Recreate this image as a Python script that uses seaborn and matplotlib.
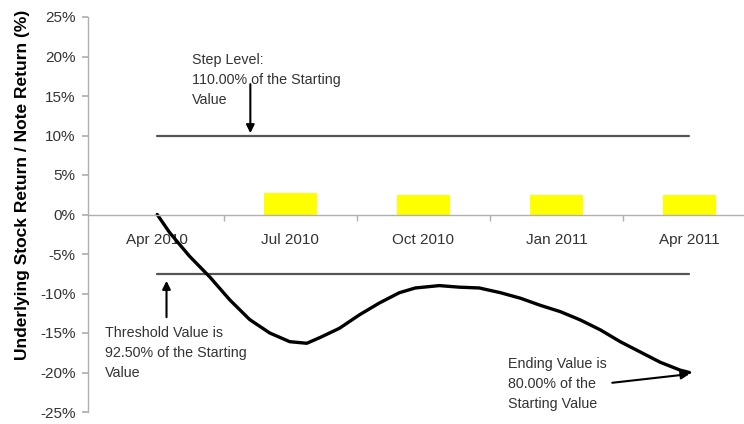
import matplotlib
matplotlib.use("Agg")
import matplotlib.pyplot as plt
import seaborn as sns
import numpy as np
import pandas as pd

# ---- data ----
categories = ["Apr 2010", "Jul 2010", "Oct 2010", "Jan 2011", "Apr 2011"]
coupon_pos = [1, 2, 3, 4]
coupon_vals = [2.7, 2.5, 2.5, 2.5]
curve_pos = [0.0, 0.094, 0.244, 0.395, 0.545, 0.695, 0.846, 0.996, 1.124, 1.22,
             1.37, 1.52, 1.67, 1.82, 1.94, 2.12, 2.27, 2.42, 2.58, 2.73, 2.88,
             3.03, 3.18, 3.33, 3.48, 3.63, 3.78, 3.93, 4.0]
curve_vals = [0.0, -2.3, -5.3, -7.9, -10.8, -13.3, -15.0, -16.1, -16.3, -15.6,
              -14.4, -12.7, -11.2, -9.9, -9.3, -9.0, -9.2, -9.3, -9.9, -10.6, -11.5,
              -12.3, -13.35, -14.6, -16.1, -17.4, -18.7, -19.7, -20.0]
step_level = 10.0
threshold_level = -7.5
yticks = [25, 20, 15, 10, 5, 0, -5, -10, -15, -20, -25]

sns.set_theme(style="white")
plt.rcParams['font.family'] = ['Liberation Sans', 'DejaVu Sans']

fig = plt.figure(figsize=(7.44, 4.24), dpi=100)
ax = fig.add_axes([88/744, 12/424, 1 - 88/744, (412-17)/424])

sns.barplot(x=coupon_pos, y=coupon_vals, native_scale=True, width=0.4,
            color="#ffff00", saturation=1, ax=ax, edgecolor="none")

hl = pd.DataFrame({"x": [0, 4, 0, 4], "y": [step_level, step_level, threshold_level, threshold_level],
                   "g": ["s", "s", "t", "t"]})
for g, d in hl.groupby("g"):
    sns.lineplot(data=d, x="x", y="y", color="#555555", lw=1.6, ax=ax)

cdf = pd.DataFrame({"x": curve_pos, "y": curve_vals})
sns.lineplot(data=cdf, x="x", y="y", color="black", lw=2.4, ax=ax, sort=False)
ax.lines[-1].set_solid_joinstyle("round")
ax.lines[-1].set_solid_capstyle("round")

ax.set_xlim(-0.52, 4.41)
ax.set_ylim(-25, 25)
ax.set_xlabel("")
ax.set_ylabel("Underlying Stock Return / Note Return (%)", fontsize=12.5, fontweight="bold",
              color="black")
ax.yaxis.set_label_coords(-0.088, 0.575)

for s in ["top", "right"]:
    ax.spines[s].set_visible(False)
ax.spines["bottom"].set_position(("data", 0))
ax.spines["bottom"].set_color("#b0b0b0")
ax.spines["left"].set_color("#b0b0b0")
ax.spines["bottom"].set_linewidth(1.0)
ax.spines["left"].set_linewidth(1.0)

ax.set_yticks(yticks)
ax.set_yticklabels([f"{v}%" for v in yticks])
ax.set_xticks(range(len(categories)))
ax.set_xticklabels(categories)
ax.set_xticks([0.5, 1.5, 2.5, 3.5], minor=True)
ax.tick_params(axis="x", which="major", length=0, pad=13, labelsize=11, labelcolor="#333333")
ax.tick_params(axis="x", which="minor", length=4, color="#b0b0b0", direction="out", bottom=True)
ax.tick_params(axis="y", which="major", length=4, color="#b0b0b0", direction="out", left=True,
               labelsize=11, labelcolor="#333333", pad=5)
ax.grid(False)

tstyle = dict(fontsize=10.3, color="#333333", va="top", ha="left", linespacing=1.55)
ax.text(0.26, 20.5, "Step Level:\n110.00% of the Starting\nValue", **tstyle)
ax.text(-0.39, -14.1, "Threshold Value is\n92.50% of the Starting\nValue", **tstyle)
ax.text(2.64, -18.0, "Ending Value is\n80.00% of the\nStarting Value", **tstyle)

ap = dict(arrowstyle="-|>", color="black", lw=1.5, mutation_scale=12, shrinkA=0, shrinkB=0)
ax.annotate("", xy=(0.70, 10.3), xytext=(0.70, 16.5), arrowprops=ap)
ax.annotate("", xy=(0.07, -8.4), xytext=(0.07, -13.0), arrowprops=ap)
ax.annotate("", xy=(4.0, -20.2), xytext=(3.42, -21.3), arrowprops=ap)

fig.savefig("out.png", dpi=100)
